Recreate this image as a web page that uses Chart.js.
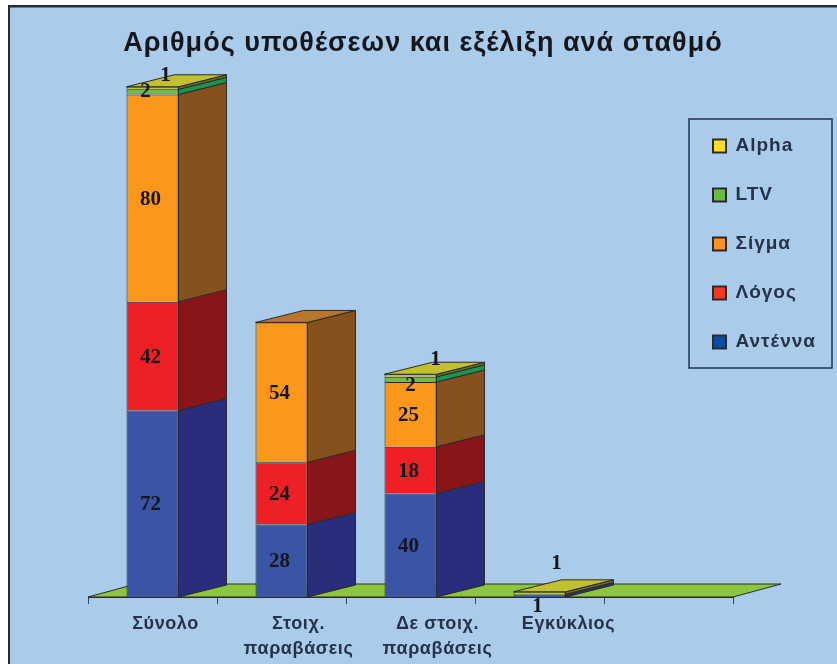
<!DOCTYPE html>
<html>
<head>
<meta charset="utf-8">
<style>
  html, body { margin: 0; padding: 0; background: #fff; }
  #wrap { width: 837px; height: 664px; }
</style>
<script src="https://cdn.jsdelivr.net/npm/chart.js@4"></script>
</head>
<body>
<div id="wrap"><canvas id="chart" width="837" height="664"></canvas></div>
<script>
// --- Data ---
const categories = ['Σύνολο', ['Στοιχ.', 'παραβάσεις'], ['Δε στοιχ.', 'παραβάσεις'], 'Εγκύκλιος', ''];
const antenna = [72, 28, 40, 1, null];
const logos = [42, 24, 18, null, null];
const sigma = [80, 54, 25, null, null];
const ltv = [2, null, 2, null, null];
const alpha = [1, null, 1, 1, null];
const titleText = 'Αριθμός υποθέσεων και εξέλιξη ανά σταθμό';

// --- Colours per series: front, side, top, legend ---
const seriesStyle = [
    { label: 'Αντέννα', values: antenna, front: '#3a55a6', side: '#2a2d7c', top: '#4a5fb0', legend: '#0b4da2' },
    { label: 'Λόγος', values: logos, front: '#ee2026', side: '#8a1519', top: '#b5272a', legend: '#ee3a24' },
    { label: 'Σίγμα', values: sigma, front: '#fb981b', side: '#85511f', top: '#b9762a', legend: '#f7941e' },
    { label: 'LTV', values: ltv, front: '#78b843', side: '#189650', top: '#8cc63f', legend: '#6cbb45' },
    { label: 'Alpha', values: alpha, front: '#b9c83c', side: '#6f6c1c', top: '#c2bf30', legend: '#ffdf20' }
];

// --- Layout helpers ---
const depthX = 48, depthY = 12, floorDepthY = 13;
const edgeColor = '#2a2a2a';
const textColor = '#26324a';
const tickLabelShift = [13, 17, 27, 29, 0];
// small segments have their value pushed off the bar: 'series:category': [dx, dy]
const labelNudge = {
    '3:0': [-7, 0], '4:0': [13, -12],
    '3:2': [0, 6], '4:2': [25, -16],
    '4:3': [17, -30], '0:3': [-2, 11]
};

function face(ctx, pts, fill) {
    ctx.beginPath();
    pts.forEach((p, i) => i ? ctx.lineTo(p[0], p[1]) : ctx.moveTo(p[0], p[1]));
    ctx.closePath();
    ctx.fillStyle = fill;
    ctx.fill();
    ctx.strokeStyle = edgeColor;
    ctx.lineWidth = 1;
    ctx.stroke();
}

// --- Background, frame and legend box ---
const framePlugin = {
    id: 'frame',
    beforeDraw(chart) {
        const ctx = chart.ctx;
        ctx.save();
        ctx.fillStyle = '#aacbea';
        ctx.fillRect(8, 5, chart.width - 8, chart.height - 5);
        ctx.fillStyle = '#2b2b2b';
        ctx.fillRect(8, 5, chart.width - 8, 2.5);
        ctx.fillRect(8, 5, 2, chart.height - 5);
        ctx.strokeStyle = '#1f3350';
        ctx.lineWidth = 1.5;
        ctx.strokeRect(689, 119, 143, 249);
        ctx.restore();
        // the original text is set a bit wide
        ctx.letterSpacing = '1px';
    },
    afterLayout(chart) {
        // title sits a bit right of the plot centre, legend goes in its box
        chart.titleBlock.left += 12.5;
        chart.titleBlock.right += 12.5;
        chart.legend.left = 683;
        chart.legend.right = 832;
        chart.legend.top = 106.5;
        chart.legend.bottom = 420; // roomy, or the legend wraps into a second column
    }
};

// --- 3D look: floor, side and top faces from the bar elements ---
const depthPlugin = {
    id: 'depth',
    beforeDatasetsDraw(chart) {
        const ctx = chart.ctx;
        const area = chart.chartArea;
        ctx.save();
        face(ctx, [
            [area.left, area.bottom], [area.right, area.bottom],
            [area.right + depthX, area.bottom - floorDepthY], [area.left + depthX, area.bottom - floorDepthY]
        ], '#8cc63f');
        seriesStyle.forEach((s, d) => {
            chart.getDatasetMeta(d).data.forEach((bar, i) => {
                if (s.values[i] === null) return;
                const r = bar.x + bar.width / 2;
                face(ctx, [
                    [r, bar.base], [r, bar.y],
                    [r + depthX, bar.y - depthY], [r + depthX, bar.base - depthY]
                ], s.side);
                // the top face belongs to the highest series of the stack
                const above = seriesStyle.slice(d + 1).some(o => o.values[i] !== null);
                if (!above) {
                    const l = bar.x - bar.width / 2;
                    face(ctx, [
                        [l, bar.y], [r, bar.y],
                        [r + depthX, bar.y - depthY], [l + depthX, bar.y - depthY]
                    ], s.top);
                }
            });
        });
        ctx.restore();
    },
    afterDatasetsDraw(chart) {
        const ctx = chart.ctx;
        ctx.save();
        ctx.textAlign = 'center';
        ctx.textBaseline = 'middle';
        // category labels
        ctx.letterSpacing = '0.6px';
        ctx.font = 'bold 18px "Liberation Sans"';
        ctx.fillStyle = textColor;
        const xScale = chart.scales.x;
        categories.forEach((c, i) => {
            const lines = Array.isArray(c) ? c : [c];
            lines.forEach((line, n) => {
                ctx.fillText(line, xScale.getPixelForValue(i) + tickLabelShift[i], 624 + n * 25);
            });
        });
        // value labels
        ctx.letterSpacing = '0px';
        ctx.font = 'bold 21px "Liberation Serif"';
        ctx.fillStyle = '#14161c';
        seriesStyle.forEach((s, d) => {
            chart.getDatasetMeta(d).data.forEach((bar, i) => {
                if (s.values[i] === null) return;
                const nudge = labelNudge[d + ':' + i] || [-2, 1];
                ctx.fillText(s.values[i], bar.x + nudge[0], (bar.y + bar.base) / 2 + nudge[1]);
            });
        });
        ctx.restore();
    }
};

new Chart(document.getElementById('chart'), {
    type: 'bar',
    data: {
        labels: categories,
        datasets: seriesStyle.map(s => ({
            label: s.label,
            data: s.values,
            backgroundColor: s.front,
            borderColor: edgeColor,
            borderWidth: 1,
            barPercentage: 1,
            categoryPercentage: 0.403
        }))
    },
    options: {
        responsive: false,
        animation: false,
        layout: { padding: { left: 88, right: 104, top: 0, bottom: 60 } },
        scales: {
            x: {
                stacked: true,
                grid: { drawOnChartArea: false, offset: true, color: '#3a4658', tickLength: 7 },
                border: { color: edgeColor },
                ticks: { display: false },
                afterFit(scale) { scale.height = 7; }
            },
            y: { stacked: true, display: false, min: 0, max: 200 }
        },
        plugins: {
            title: {
                display: true,
                text: titleText,
                color: '#15171c',
                font: { family: '"Liberation Sans"', size: 27, weight: 'bold', lineHeight: 1.2 },
                padding: { top: 27, bottom: 19.6 }
            },
            legend: {
                position: 'chartArea',
                align: 'start',
                labels: {
                    font: { family: '"Liberation Sans"', size: 19, weight: 'bold' },
                    color: textColor,
                    boxWidth: 13,
                    boxHeight: 13,
                    padding: 30,
                    generateLabels() {
                        return seriesStyle.map((s, d) => ({
                            text: s.label,
                            fillStyle: s.legend,
                            strokeStyle: '#2a2a2a',
                            lineWidth: 2,
                            datasetIndex: d,
                            fontColor: textColor
                        })).reverse();
                    }
                }
            },
            tooltip: { enabled: false }
        }
    },
    plugins: [framePlugin, depthPlugin]
});
</script>
</body>
</html>
